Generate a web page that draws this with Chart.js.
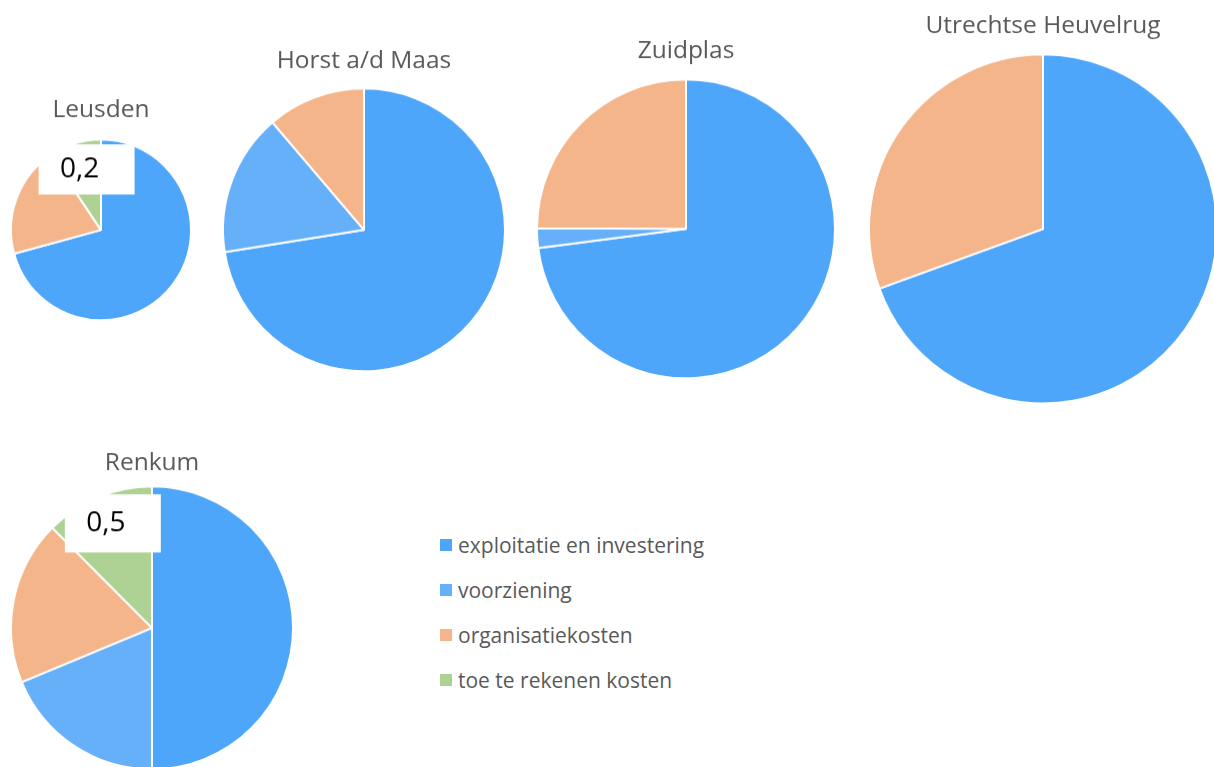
<!DOCTYPE html>
<html>
<head>
<meta charset="utf-8">
<script src="https://cdn.jsdelivr.net/npm/chart.js@4.4.1/dist/chart.umd.min.js"></script>
<style>
    html, body { margin: 0; padding: 0; background: #fff; }
    body { width: 1214px; height: 767px; position: relative; overflow: hidden; font-family: 'Open Sans', sans-serif; }
    canvas { position: absolute; }
    #legend { position: absolute; left: 440px; top: 522px; }
    .legend-item { display: flex; align-items: center; height: 45px; font-size: 21px; color: #595959; }
    .legend-item span.box { width: 12px; height: 12px; margin-right: 6px; margin-top: 1px; }
</style>
</head>
<body>
<div id="legend"></div>
<script>
// categories
const categories = ['exploitatie en investering', 'voorziening', 'organisatiekosten', 'toe te rekenen kosten'];
const colors = ['#4DA6FA', '#66B0FA', '#F5B58A', '#AED293'];

// values per gemeente (same order as categories)
const leusden = [1.5, 0, 0.42, 0.2];
const horst = [2.9, 0.65, 0.45, 0];
const zuidplas = [3.1, 0.09, 1.06, 0];
const utrechtse = [3.75, 0, 1.65, 0];
const renkum = [2.0, 0.75, 0.75, 0.5];

// layout: centre, radius, title centre, which slice gets a data label
const pies = [
    { id: 'c-leusden', title: 'Leusden', data: leusden, cx: 101, cy: 230, r: 90, titleY: 110, label: 3, labelPos: 0.7, boxH: 50 },
    { id: 'c-horst', title: 'Horst a/d Maas', data: horst, cx: 364, cy: 230, r: 141, titleY: 61 },
    { id: 'c-zuidplas', title: 'Zuidplas', data: zuidplas, cx: 686, cy: 229, r: 149, titleY: 51 },
    { id: 'c-utrechtse', title: 'Utrechtse Heuvelrug', data: utrechtse, cx: 1043, cy: 229, r: 174, titleY: 26 },
    { id: 'c-renkum', title: 'Renkum', data: renkum, cx: 152, cy: 628, r: 141, titleY: 463, label: 3, labelPos: 0.8, boxH: 58 }
];

const TITLE_SIZE = 24.5;
const PAD = 6;

// white box with the value of one slice, like the Excel data label
const valueLabel = {
    id: 'valueLabel',
    afterDatasetsDraw(chart, args, opts) {
        if (opts.index === undefined) return;
        const arc = chart.getDatasetMeta(0).data[opts.index];
        const value = chart.data.datasets[0].data[opts.index];
        const mid = (arc.startAngle + arc.endAngle) / 2;
        const d = arc.outerRadius * opts.pos;
        const x = arc.x + Math.cos(mid) * d + 4;
        const y = arc.y + Math.sin(mid) * d;
        const ctx = chart.ctx;
        ctx.save();
        ctx.fillStyle = '#ffffff';
        ctx.fillRect(x - 48, y - opts.h / 2, 96, opts.h);
        ctx.fillStyle = '#000000';
        ctx.font = '28px "Open Sans", sans-serif';
        ctx.textAlign = 'center';
        ctx.textBaseline = 'middle';
        ctx.fillText(String(value).replace('.', ','), x - 7, y);
        ctx.restore();
    }
};

function makePie(p) {
    const lineH = TITLE_SIZE * 1.2;
    const top = p.titleY - lineH / 2;
    const bottomPad = (p.cy - p.r - PAD) - top - lineH;
    const canvas = document.createElement('canvas');
    canvas.id = p.id;
    const w = 2 * p.r + 2 * PAD;
    const h = lineH + bottomPad + w;
    canvas.width = w;
    canvas.height = h;
    canvas.style.left = (p.cx - p.r - PAD) + 'px';
    canvas.style.top = top + 'px';
    canvas.style.width = w + 'px';
    canvas.style.height = h + 'px';
    document.body.appendChild(canvas);

    return new Chart(canvas.getContext('2d'), {
        type: 'pie',
        data: {
            labels: categories,
            datasets: [{
                data: p.data,
                backgroundColor: colors,
                borderColor: '#ffffff',
                borderWidth: 2
            }]
        },
        options: {
            responsive: false,
            animation: false,
            radius: p.r,
            layout: { padding: 0 },
            plugins: {
                legend: { display: false },
                tooltip: { enabled: false },
                title: {
                    display: true,
                    text: p.title,
                    color: '#595959',
                    font: { family: "'Open Sans', sans-serif", size: TITLE_SIZE, weight: 'normal', lineHeight: 1.2 },
                    padding: { top: 0, bottom: bottomPad }
                },
                valueLabel: { index: p.label, pos: p.labelPos, h: p.boxH }
            }
        },
        plugins: [valueLabel]
    });
}

pies.forEach(makePie);

// legend built from the same categories / colours
const legend = document.getElementById('legend');
categories.forEach((c, i) => {
    const item = document.createElement('div');
    item.className = 'legend-item';
    item.innerHTML = `<span class="box" style="background:${colors[i]}"></span>${c}`;
    legend.appendChild(item);
});
</script>
</body>
</html>
